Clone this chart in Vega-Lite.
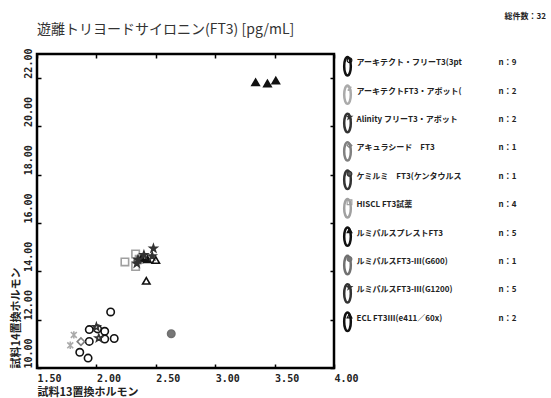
{
  "$schema": "https://vega.github.io/schema/vega-lite/v6.json",
  "padding": {"left": 8, "top": 12, "right": 0, "bottom": 0},
  "bounds": "flush",
  "spacing": 4,
  "config": {
    "view": {"stroke": "#000", "strokeWidth": 2.5},
    "font": "Noto Sans CJK JP",
    "axis": {"grid": false}
  },
  "datasets": {
    "pts": [
      {"series": "アーキテクト・フリーT3(3pt", "x": 2.12, "y": 12.32},
      {"series": "アーキテクト・フリーT3(3pt", "x": 1.94, "y": 11.59},
      {"series": "アーキテクト・フリーT3(3pt", "x": 2.01, "y": 11.62},
      {"series": "アーキテクト・フリーT3(3pt", "x": 2.07, "y": 11.52},
      {"series": "アーキテクト・フリーT3(3pt", "x": 1.94, "y": 11.10},
      {"series": "アーキテクト・フリーT3(3pt", "x": 2.07, "y": 11.20},
      {"series": "アーキテクト・フリーT3(3pt", "x": 2.15, "y": 11.22},
      {"series": "アーキテクト・フリーT3(3pt", "x": 1.86, "y": 10.65},
      {"series": "アーキテクト・フリーT3(3pt", "x": 1.93, "y": 10.41},
      {"series": "アーキテクトFT3・アボット(", "x": 1.81, "y": 11.37},
      {"series": "アーキテクトFT3・アボット(", "x": 1.78, "y": 10.94},
      {"series": "Alinity フリーT3・アボット", "x": 2.00, "y": 11.70},
      {"series": "Alinity フリーT3・アボット", "x": 2.02, "y": 11.24},
      {"series": "アキュラシード　FT3", "x": 1.87, "y": 11.09},
      {"series": "ケミルミ　FT3(ケンタウルス", "x": 2.35, "y": 14.45},
      {"series": "HISCL FT3試薬", "x": 2.24, "y": 14.39},
      {"series": "HISCL FT3試薬", "x": 2.33, "y": 14.72},
      {"series": "HISCL FT3試薬", "x": 2.33, "y": 14.20},
      {"series": "HISCL FT3試薬", "x": 2.36, "y": 14.50},
      {"series": "ルミパルスプレストFT3", "x": 3.34, "y": 21.83},
      {"series": "ルミパルスプレストFT3", "x": 3.44, "y": 21.78},
      {"series": "ルミパルスプレストFT3", "x": 3.51, "y": 21.90},
      {"series": "ルミパルスプレストFT3", "x": 2.38, "y": 14.55},
      {"series": "ルミパルスプレストFT3", "x": 2.43, "y": 14.50},
      {"series": "ルミパルスFT3-Ⅲ(G600)", "x": 2.63, "y": 11.42},
      {"series": "ルミパルスFT3-Ⅲ(G1200)", "x": 2.48, "y": 14.95},
      {"series": "ルミパルスFT3-Ⅲ(G1200)", "x": 2.40, "y": 14.68},
      {"series": "ルミパルスFT3-Ⅲ(G1200)", "x": 2.35, "y": 14.49},
      {"series": "ルミパルスFT3-Ⅲ(G1200)", "x": 2.34, "y": 14.33},
      {"series": "ルミパルスFT3-Ⅲ(G1200)", "x": 2.47, "y": 14.63},
      {"series": "ECL FT3Ⅲ(e411／60x)", "x": 2.50, "y": 14.47},
      {"series": "ECL FT3Ⅲ(e411／60x)", "x": 2.42, "y": 13.61}
    ],
    "leg": [
      {"series": "アーキテクト・フリーT3(3pt", "n": "n：9"},
      {"series": "アーキテクトFT3・アボット(", "n": "n：2"},
      {"series": "Alinity フリーT3・アボット", "n": "n：2"},
      {"series": "アキュラシード　FT3", "n": "n：1"},
      {"series": "ケミルミ　FT3(ケンタウルス", "n": "n：1"},
      {"series": "HISCL FT3試薬", "n": "n：4"},
      {"series": "ルミパルスプレストFT3", "n": "n：5"},
      {"series": "ルミパルスFT3-Ⅲ(G600)", "n": "n：1"},
      {"series": "ルミパルスFT3-Ⅲ(G1200)", "n": "n：5"},
      {"series": "ECL FT3Ⅲ(e411／60x)", "n": "n：2"}
    ]
  },
  "resolve": {"scale": {"x": "independent", "y": "independent"}},
  "hconcat": [
    {
      "width": 297,
      "height": 314,
      "title": {"text": "遊離トリヨードサイロニン(FT3) [pg/mL]", "anchor": "start", "frame": "group", "fontSize": 14, "fontWeight": "normal", "color": "#333", "offset": 11, "font": "Noto Sans CJK JP"},
      "data": {"name": "pts"},
      "resolve": {"axis": {"x": "independent", "y": "independent"}},
      "layer": [
        {
          "mark": {"type": "point", "opacity": 0},
          "encoding": {
            "x": {"field": "x", "type": "quantitative", "scale": {"domain": [1.5, 4], "nice": false, "zero": false},
              "axis": {"orient": "top", "labels": false, "title": null, "domain": false, "ticks": true, "tickSize": -4, "tickWidth": 1.5, "tickColor": "#000", "values": [1.5, 2, 2.5, 3, 3.5, 4]}},
            "y": {"field": "y", "type": "quantitative", "scale": {"domain": [10, 23], "nice": false, "zero": false},
              "axis": {"orient": "right", "labels": false, "title": null, "domain": false, "ticks": true, "tickSize": -4, "tickWidth": 1.5, "tickColor": "#000", "values": [10, 12, 14, 16, 18, 20, 22]}}
          }
        },
        {
          "mark": {"type": "point", "strokeWidth": 1.6, "size": 55, "opacity": 1},
          "encoding": {
            "x": {"field": "x", "type": "quantitative", "scale": {"domain": [1.5, 4], "nice": false, "zero": false},
              "axis": {"orient": "bottom", "values": [1.5, 2, 2.5, 3, 3.5, 4], "format": ".2f", "domain": false, "tickSize": -4, "tickWidth": 1.5, "tickColor": "#000", "labelPadding": 9, "labelAlign": "left", "labelFont": "DejaVu Sans Mono", "labelFontSize": 10, "labelFontWeight": "bold", "labelColor": "#222", "labelFlush": false, "title": "試料13置換ホルモン", "titleAnchor": "start", "titleFontSize": 11, "titleFontWeight": "bold", "titleColor": "#222", "titlePadding": 3, "titleFont": "Noto Sans CJK JP"}},
            "y": {"field": "y", "type": "quantitative", "scale": {"domain": [10, 23], "nice": false, "zero": false},
              "axis": {"orient": "left", "values": [10, 12, 14, 16, 18, 20, 22], "format": ".2f", "domain": false, "tickSize": -4, "tickWidth": 1.5, "tickColor": "#000", "labelPadding": 8, "labelAngle": 270, "labelAlign": "left", "labelBaseline": "bottom", "labelFont": "DejaVu Sans Mono", "labelFontSize": 10, "labelFontWeight": "bold", "labelColor": "#222", "labelFlush": false, "title": "試料14置換ホルモン", "titleAnchor": "start", "titleFontSize": 11, "titleFontWeight": "bold", "titleColor": "#222", "titlePadding": 2, "titleFont": "Noto Sans CJK JP"}},
            "shape": {"field": "series", "type": "nominal", "legend": null,
              "scale": {"domain": ["アーキテクト・フリーT3(3pt", "アーキテクトFT3・アボット(", "Alinity フリーT3・アボット", "アキュラシード　FT3", "ケミルミ　FT3(ケンタウルス", "HISCL FT3試薬", "ルミパルスプレストFT3", "ルミパルスFT3-Ⅲ(G600)", "ルミパルスFT3-Ⅲ(G1200)", "ECL FT3Ⅲ(e411／60x)"],
                "range": ["circle", "M-0.8,-0.8L0.8,0.8M-0.8,0.8L0.8,-0.8M0,-1L0,1", "M0,-1L0.235,-0.324L0.951,-0.309L0.38,0.124L0.588,0.809L0,0.4L-0.588,0.809L-0.38,0.124L-0.951,-0.309L-0.235,-0.324Z", "diamond", "circle", "square", "triangle-up", "circle", "M0,-1L0.235,-0.324L0.951,-0.309L0.38,0.124L0.588,0.809L0,0.4L-0.588,0.809L-0.38,0.124L-0.951,-0.309L-0.235,-0.324Z", "triangle-up"]}},
            "stroke": {"field": "series", "type": "nominal", "legend": null,
              "scale": {"domain": ["アーキテクト・フリーT3(3pt", "アーキテクトFT3・アボット(", "Alinity フリーT3・アボット", "アキュラシード　FT3", "ケミルミ　FT3(ケンタウルス", "HISCL FT3試薬", "ルミパルスプレストFT3", "ルミパルスFT3-Ⅲ(G600)", "ルミパルスFT3-Ⅲ(G1200)", "ECL FT3Ⅲ(e411／60x)"],
                "range": ["#111111", "#aaaaaa", "#333333", "#808080", "#333333", "#a0a0a0", "#111111", "#707070", "#333333", "#111111"]}},
            "fill": {"field": "series", "type": "nominal", "legend": null,
              "scale": {"domain": ["アーキテクト・フリーT3(3pt", "アーキテクトFT3・アボット(", "Alinity フリーT3・アボット", "アキュラシード　FT3", "ケミルミ　FT3(ケンタウルス", "HISCL FT3試薬", "ルミパルスプレストFT3", "ルミパルスFT3-Ⅲ(G600)", "ルミパルスFT3-Ⅲ(G1200)", "ECL FT3Ⅲ(e411／60x)"],
                "range": ["transparent", "transparent", "transparent", "transparent", "#555555", "transparent", "#111111", "#777777", "#333333", "transparent"]}}
          }
        }
      ]
    },
    {
      "width": 208,
      "height": 314,
      "view": {"stroke": null},
      "title": {"text": "総件数：32", "anchor": "end", "frame": "group", "fontSize": 8, "fontWeight": "bold", "color": "#222", "offset": 31, "font": "Noto Sans CJK JP"},
      "data": {"name": "leg"},
      "encoding": {
        "y": {"field": "series", "type": "nominal", "sort": null, "axis": null,
          "scale": {"type": "point", "domain": ["アーキテクト・フリーT3(3pt", "アーキテクトFT3・アボット(", "Alinity フリーT3・アボット", "アキュラシード　FT3", "ケミルミ　FT3(ケンタウルス", "HISCL FT3試薬", "ルミパルスプレストFT3", "ルミパルスFT3-Ⅲ(G600)", "ルミパルスFT3-Ⅲ(G1200)", "ECL FT3Ⅲ(e411／60x)"], "range": [-5, 279]}}
      },
      "layer": [
        {
          "mark": {"type": "point", "shape": "M0,-1A0.36,1 0 1,1 0,1A0.36,1 0 1,1 0,-1Z", "size": 340, "strokeWidth": 2.5, "fill": "transparent", "opacity": 1},
          "encoding": {
            "x": {"datum": 9.5, "type": "quantitative", "scale": {"domain": [0, 208], "nice": false, "zero": true}, "axis": null},
            "yOffset": {"value": 3},
            "stroke": {"field": "series", "type": "nominal", "legend": null}
          }
        },
        {
          "mark": {"type": "point", "size": 22, "strokeWidth": 1.2, "opacity": 1},
          "encoding": {
            "x": {"datum": 11.5, "type": "quantitative", "axis": null},
            "yOffset": {"value": -3},
            "shape": {"field": "series", "type": "nominal", "legend": null},
            "stroke": {"field": "series", "type": "nominal", "legend": null},
            "fill": {"field": "series", "type": "nominal", "legend": null}
          }
        },
        {
          "mark": {"type": "text", "align": "left", "baseline": "middle", "fontSize": 8, "fontWeight": "bold", "color": "#222", "font": "Noto Sans CJK JP"},
          "encoding": {
            "x": {"datum": 18.5, "type": "quantitative", "axis": null},
            "text": {"field": "series"}
          }
        },
        {
          "mark": {"type": "text", "align": "left", "baseline": "middle", "fontSize": 8, "fontWeight": "bold", "color": "#222", "font": "Noto Sans CJK JP"},
          "encoding": {
            "x": {"datum": 160.5, "type": "quantitative", "axis": null},
            "text": {"field": "n"}
          }
        }
      ]
    }
  ]
}
